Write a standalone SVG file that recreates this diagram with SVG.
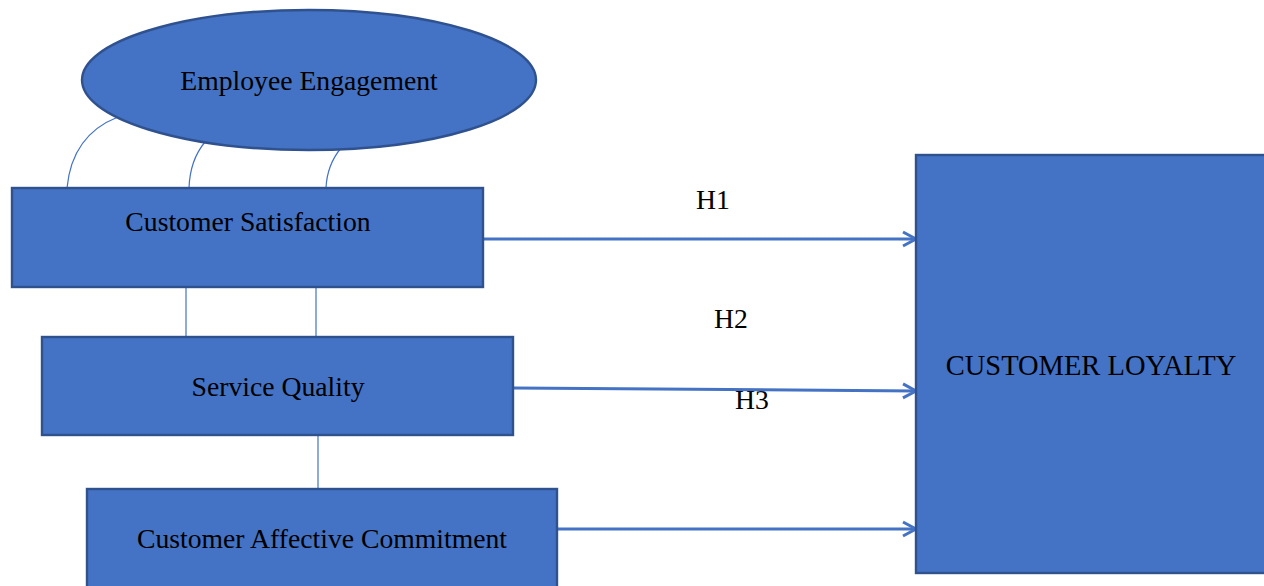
<svg xmlns="http://www.w3.org/2000/svg" width="1264" height="586" viewBox="0 0 1264 586">
<style>
.node{fill:#4472C4;stroke:#2F528F;stroke-width:2.4}
.lbl{font-family:"Liberation Serif","Times New Roman",serif;font-size:27.7px;fill:#000;text-anchor:middle}
.thin{fill:none;stroke:#4472C4;stroke-width:1.2}
.arr{fill:none;stroke:#4472C4;stroke-width:3}
</style>
<defs>
<marker id="chev" markerUnits="userSpaceOnUse" markerWidth="20" markerHeight="20" viewBox="-16 -10 20 20" refX="0" refY="0" orient="auto">
<path d="M-13,-7 L0,0 L-13,7" fill="none" stroke="#4472C4" stroke-width="3"/>
</marker>
</defs>
<rect width="1264" height="586" fill="#fff"/>
<g id="labels">
<text class="lbl" x="713" y="209">H1</text>
<text class="lbl" x="731" y="328">H2</text>
<text class="lbl" x="752" y="409">H3</text>
</g>
<g id="connectors">
<path class="thin" d="M118,117 Q72,135 67,188"/>
<path class="thin" d="M205,142 Q190,160 189,188"/>
<path class="thin" d="M341,148 Q327,165 326,188"/>
<line class="thin" x1="186" y1="287" x2="186" y2="337"/>
<line class="thin" x1="316" y1="287" x2="316" y2="337"/>
<line class="thin" x1="318" y1="436" x2="318" y2="489"/>
<line class="arr" x1="484" y1="239" x2="916" y2="239" marker-end="url(#chev)"/>
<line class="arr" x1="514" y1="388" x2="916" y2="391" marker-end="url(#chev)"/>
<line class="arr" x1="558" y1="529" x2="916" y2="529" marker-end="url(#chev)"/>
</g>
<g id="employee-engagement">
<ellipse class="node" cx="309" cy="80" rx="227" ry="70"/>
<text class="lbl" x="309" y="90">Employee Engagement</text>
</g>
<g id="customer-satisfaction">
<rect class="node" x="12" y="188" width="471" height="99"/>
<text class="lbl" x="248" y="231">Customer Satisfaction</text>
</g>
<g id="service-quality">
<rect class="node" x="42" y="337" width="471" height="98"/>
<text class="lbl" x="278" y="396">Service Quality</text>
</g>
<g id="customer-affective-commitment">
<rect class="node" x="87" y="489" width="470" height="110"/>
<text class="lbl" x="322" y="548">Customer Affective Commitment</text>
</g>
<g id="customer-loyalty">
<rect class="node" x="916" y="155" width="360" height="418"/>
<text class="lbl" x="1091" y="375" style="font-size:28.5px">CUSTOMER LOYALTY</text>
</g>
</svg>
